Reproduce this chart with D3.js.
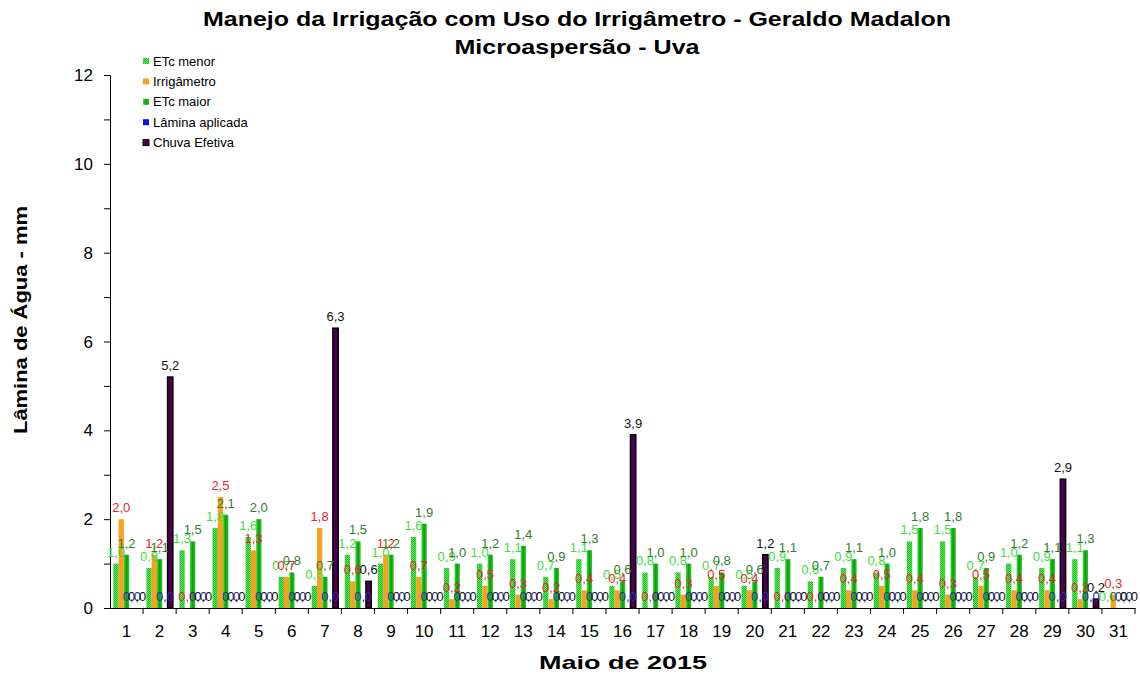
<!DOCTYPE html>
<html>
<head>
<meta charset="utf-8">
<script src="https://cdn.jsdelivr.net/npm/d3@7"></script>
<style>
  body { margin: 0; background: #fff; }
  text { font-family: 'Liberation Sans', Arial, sans-serif; }
</style>
</head>
<body>
<div id="app"></div>
<script>
const DAYS = ['1','2','3','4','5','6','7','8','9','10','11','12','13','14','15','16','17','18','19','20','21','22','23','24','25','26','27','28','29','30','31'];
const ETC_MENOR = [1.0,0.9,1.3,1.8,1.6,0.7,0.5,1.2,1.0,1.6,0.9,1.0,1.1,0.7,1.1,0.5,0.8,0.8,0.7,0.5,0.9,0.6,0.9,0.8,1.5,1.5,0.7,1.0,0.9,1.1,0.0];
const IRRIGAMETRO = [2.0,1.2,0.0,2.5,1.3,0.7,1.8,0.6,1.2,0.7,0.2,0.5,0.3,0.2,0.4,0.4,0.0,0.3,0.5,0.4,0.0,0.0,0.4,0.5,0.4,0.3,0.5,0.4,0.4,0.2,0.3];
const ETC_MAIOR = [1.2,1.1,1.5,2.1,2.0,0.8,0.7,1.5,1.2,1.9,1.0,1.2,1.4,0.9,1.3,0.6,1.0,1.0,0.8,0.6,1.1,0.7,1.1,1.0,1.8,1.8,0.9,1.2,1.1,1.3,0.0];
const LAMINA = [0,0,0,0,0,0,0,0,0,0,0,0,0,0,0,0,0,0,0,0,0,0,0,0,0,0,0,0,0,0,0];
const CHUVA = [0,5.2,0,0,0,0,6.3,0.6,0,0,0,0,0,0,0,3.9,0,0,0,1.2,0,0,0,0,0,0,0,0,2.9,0.2,0];
const Y_TICKS = [0,2,4,6,8,10,12];

const width = 1140, height = 677;
const plotLeft = 110, plotRight = 1135, plotTop = 75, plotBottom = 608;

const series = [
  { key: 'ETc menor', values: ETC_MENOR, fill: 'url(#hatch)', label: '#3fdc3f', stroke: 'none' },
  { key: 'Irrigâmetro', values: IRRIGAMETRO, fill: '#f7a11e', label: '#e8262a', stroke: 'none' },
  { key: 'ETc maior', values: ETC_MAIOR, fill: 'url(#maior)', label: '#2f7d2f', stroke: 'none' },
  { key: 'Lâmina aplicada', values: LAMINA, fill: '#1010ee', label: '#2a2aa8', stroke: 'none' },
  { key: 'Chuva Efetiva', values: CHUVA, fill: '#4c0052', label: '#111', stroke: '#000' },
];

const root = document.querySelector('#app');
root.innerHTML = `<svg id='chart' width=${width} height=${height}></svg>`;
const svg = d3.select('#chart');

const defs = svg.append('defs');
const hatch = defs.append('pattern')
  .attr('id', 'hatch').attr('width', 2).attr('height', 2)
  .attr('patternUnits', 'userSpaceOnUse');
hatch.append('rect').attr('width', 2).attr('height', 2).attr('fill', '#55f055');
hatch.append('rect').attr('width', 1).attr('height', 1).attr('fill', '#26b426');
hatch.append('rect').attr('x', 1).attr('y', 1).attr('width', 1).attr('height', 1).attr('fill', '#26b426');

const grad = defs.append('linearGradient').attr('id', 'maior')
  .attr('x1', 0).attr('x2', 1).attr('y1', 0).attr('y2', 0);
grad.append('stop').attr('offset', 0).attr('stop-color', '#38e038');
grad.append('stop').attr('offset', 0.5).attr('stop-color', '#0c9a0c');
grad.append('stop').attr('offset', 1).attr('stop-color', '#2ad02a');

const x0 = d3.scaleBand().domain(DAYS).range([plotLeft, plotRight]);
const x1 = d3.scaleBand().domain(series.map((s) => s.key)).range([3.3, 29.8]);
const y = d3.scaleLinear().domain([0, 12]).range([plotBottom, plotTop]);
const fmt = (v) => d3.format('.1f')(v).replace('.', ',');

// titles (stretched a bit like the original export)
svg.append('text').attr('x', 577).attr('y', 26).attr('text-anchor', 'middle')
  .attr('font-size', 21).attr('font-weight', 'bold')
  .attr('textLength', 748).attr('lengthAdjust', 'spacingAndGlyphs')
  .text('Manejo da Irrigação com Uso do Irrigâmetro - Geraldo Madalon');
svg.append('text').attr('x', 577).attr('y', 54).attr('text-anchor', 'middle')
  .attr('font-size', 21).attr('font-weight', 'bold')
  .attr('textLength', 245).attr('lengthAdjust', 'spacingAndGlyphs')
  .text('Microaspersão - Uva');
svg.append('text').attr('transform', 'translate(27,320) rotate(-90)')
  .attr('text-anchor', 'middle').attr('font-size', 19).attr('font-weight', 'bold')
  .attr('textLength', 228).attr('lengthAdjust', 'spacingAndGlyphs')
  .text('Lâmina de Água - mm');
svg.append('text').attr('x', 623).attr('y', 669).attr('text-anchor', 'middle')
  .attr('font-size', 19).attr('font-weight', 'bold')
  .attr('textLength', 168).attr('lengthAdjust', 'spacingAndGlyphs')
  .text('Maio de 2015');

// axes
const yAxis = svg.append('g').attr('transform', `translate(${plotLeft},0)`)
  .call(d3.axisLeft(y).tickValues(d3.range(0, 13, 1)).tickSize(6).tickFormat(''));
yAxis.select('.domain').attr('stroke', '#000');
svg.append('g').selectAll('text').data(Y_TICKS).join('text')
  .attr('x', 93).attr('y', (d) => y(d) + 6).attr('text-anchor', 'end')
  .attr('font-size', 17).text((d) => d);

const xAxis = svg.append('g').attr('transform', `translate(0,${plotBottom})`)
  .call(d3.axisBottom(x0).tickSize(0).tickPadding(17).tickSizeOuter(0));
xAxis.selectAll('text').attr('font-size', 17).attr('font-family', "'Liberation Sans', Arial, sans-serif");
xAxis.select('.domain').attr('stroke', '#000');
svg.append('g').selectAll('line').data(DAYS).join('line')
  .attr('x1', (d) => x0(d) + x0.bandwidth()).attr('x2', (d) => x0(d) + x0.bandwidth())
  .attr('y1', plotBottom).attr('y2', plotBottom + 6).attr('stroke', '#000');

// bars
const groups = svg.append('g').selectAll('g').data(series).join('g');
groups.selectAll('rect')
  .data((s) => s.values.map((v, i) => ({ s, v, day: DAYS[i] })).filter((d) => d.v > 0))
  .join('rect')
  .attr('x', (d) => x0(d.day) + x1(d.s.key))
  .attr('y', (d) => y(d.v))
  .attr('width', x1.bandwidth())
  .attr('height', (d) => y(0) - y(d.v))
  .attr('fill', (d) => d.s.fill)
  .attr('stroke', (d) => d.s.stroke)
  .attr('stroke-width', 1.5);

// value labels
const labels = svg.append('g').selectAll('g').data(series).join('g');
labels.selectAll('text')
  .data((s) => s.values.map((v, i) => ({ s, v, day: DAYS[i] })))
  .join('text')
  .attr('x', (d) => x0(d.day) + x1(d.s.key) + x1.bandwidth() / 2)
  .attr('y', (d) => y(d.v) - 7)
  .attr('text-anchor', 'middle')
  .attr('font-family', "'Liberation Serif', 'Times New Roman', serif")
  .attr('font-size', 13)
  .attr('fill', (d) => d.s.label)
  .text((d) => fmt(d.v));

// legend
const legend = svg.append('g').selectAll('g').data(series).join('g')
  .attr('transform', (d, i) => `translate(143,${61 + i * 20.4})`);
legend.append('rect').attr('x', 0).attr('y', -3).attr('width', 6).attr('height', 6)
  .attr('fill', (d) => d.fill).attr('stroke', (d) => d.stroke);
legend.append('text').attr('x', 10).attr('y', 4.5).attr('font-size', 13)
  .text((d) => d.key);
</script>
</body>
</html>
